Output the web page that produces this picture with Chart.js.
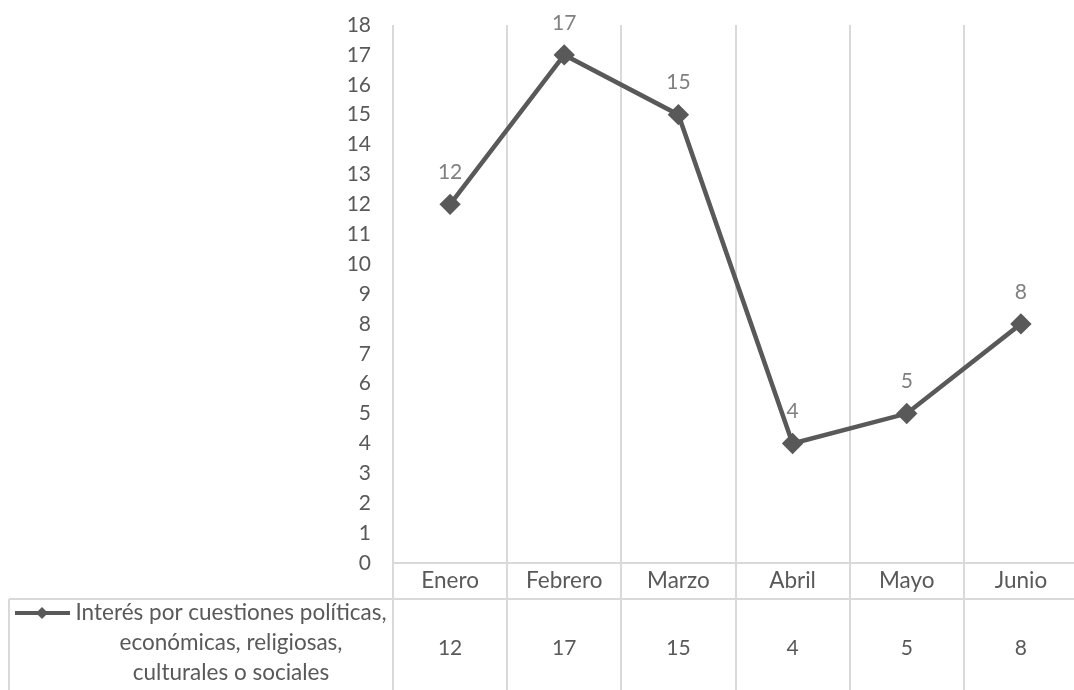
<!DOCTYPE html>
<html>
<head>
<meta charset="utf-8">
<script src="https://cdn.jsdelivr.net/npm/chart.js@4.4.0/dist/chart.umd.min.js"></script>
<style>
  html, body { margin: 0; padding: 0; background: #fff; overflow: hidden; }
  #marco { width: 1074px; height: 690px; overflow: hidden; position: relative; }
  #grafica { display: block; }
</style>
</head>
<body>
<div id="marco"><canvas id="grafica" width="1090" height="690"></canvas></div>
<script>
const meses = ['Enero', 'Febrero', 'Marzo', 'Abril', 'Mayo', 'Junio'];
const valores = [12, 17, 15, 4, 5, 8];
const ejeYMin = 0;
const ejeYMax = 18;
const ejeYPaso = 1;
const nombreSerie = ['Interés por cuestiones políticas,', 'económicas, religiosas,', 'culturales o sociales'];

const fuente = 'Lato, "Open Sans", sans-serif';
const colorLinea = '#595959';
const colorTexto = '#595959';
const colorEtiqueta = '#808080';
const colorRejilla = '#d9d9d9';
const tamNumero = 21;
const tamTexto = 22.5;

// dibuja etiquetas de datos, tabla de datos y leyenda
const tablaDatos = {
    id: 'tablaDatos',
    afterDraw(chart) {
        const ctx = chart.ctx;
        const area = chart.chartArea;
        const x = chart.scales.x;
        const meta = chart.getDatasetMeta(0);
        const filaEje = area.bottom + 36;
        const fondo = chart.height;
        const ancho = x.getPixelForValue(1) - x.getPixelForValue(0);

        ctx.save();
        // etiquetas de datos
        ctx.font = `${tamNumero}px ${fuente}`;
        ctx.fillStyle = colorEtiqueta;
        ctx.textAlign = 'center';
        ctx.textBaseline = 'middle';
        meta.data.forEach((p, i) => {
            ctx.fillText(String(valores[i]), p.x, p.y - 32);
        });

        // lineas de la tabla
        ctx.strokeStyle = colorRejilla;
        ctx.lineWidth = 2;
        ctx.beginPath();
        for (let i = 0; i <= meses.length; i++) {
            const gx = Math.round(x.getPixelForValue(i) - ancho / 2);
            ctx.moveTo(gx, area.bottom);
            ctx.lineTo(gx, fondo);
        }
        ctx.moveTo(9, filaEje);
        ctx.lineTo(chart.width, filaEje);
        ctx.moveTo(9, filaEje);
        ctx.lineTo(9, fondo);
        ctx.stroke();

        // valores de la tabla
        ctx.fillStyle = colorTexto;
        ctx.font = `${tamNumero}px ${fuente}`;
        const filaMedia = (filaEje + fondo) / 2 + 4;
        valores.forEach((v, i) => {
            ctx.fillText(String(v), x.getPixelForValue(i), filaMedia);
        });

        // leyenda
        ctx.font = `${tamTexto}px ${fuente}`;
        const yLinea = filaEje + 14;
        nombreSerie.forEach((t, i) => {
            ctx.fillText(t, 231, yLinea + i * 30);
        });
        ctx.strokeStyle = colorLinea;
        ctx.lineWidth = 4;
        ctx.beginPath();
        ctx.moveTo(15, yLinea);
        ctx.lineTo(70, yLinea);
        ctx.stroke();
        ctx.fillStyle = colorLinea;
        ctx.beginPath();
        ctx.moveTo(42, yLinea - 6);
        ctx.lineTo(48, yLinea);
        ctx.lineTo(42, yLinea + 6);
        ctx.lineTo(36, yLinea);
        ctx.closePath();
        ctx.fill();
        ctx.restore();
    }
};

const ctxGrafica = document.getElementById('grafica').getContext('2d');
new Chart(ctxGrafica, {
    type: 'line',
    data: {
        labels: meses,
        datasets: [{
            label: nombreSerie.join(' '),
            data: valores,
            borderColor: colorLinea,
            backgroundColor: colorLinea,
            borderWidth: 4.5,
            pointStyle: 'rectRot',
            pointRadius: 7.5,
            pointHoverRadius: 7.5,
            tension: 0,
            clip: false
        }]
    },
    options: {
        responsive: false,
        animation: false,
        layout: {
            padding: { left: 333, right: 3, top: 25, bottom: 91 }
        },
        plugins: {
            legend: { display: false },
            tooltip: { enabled: false }
        },
        scales: {
            x: {
                offset: true,
                afterFit: s => { s.height = 36; s.paddingLeft = 0; s.paddingRight = 0; },
                grid: {
                    offset: true,
                    color: colorRejilla,
                    lineWidth: 2,
                    drawTicks: false
                },
                border: { display: true, color: colorRejilla, width: 2 },
                ticks: {
                    color: colorTexto,
                    font: { family: fuente, size: tamTexto },
                    padding: 4,
                    maxRotation: 0
                }
            },
            y: {
                min: ejeYMin,
                max: ejeYMax,
                afterFit: s => { s.width = 60; s.paddingTop = 0; s.paddingBottom = 0; },
                grid: { display: false, drawTicks: false },
                border: { display: false },
                ticks: {
                    stepSize: ejeYPaso,
                    color: colorTexto,
                    font: { family: fuente, size: tamNumero },
                    padding: 22
                }
            }
        }
    },
    plugins: [tablaDatos]
});
</script>
</body>
</html>
